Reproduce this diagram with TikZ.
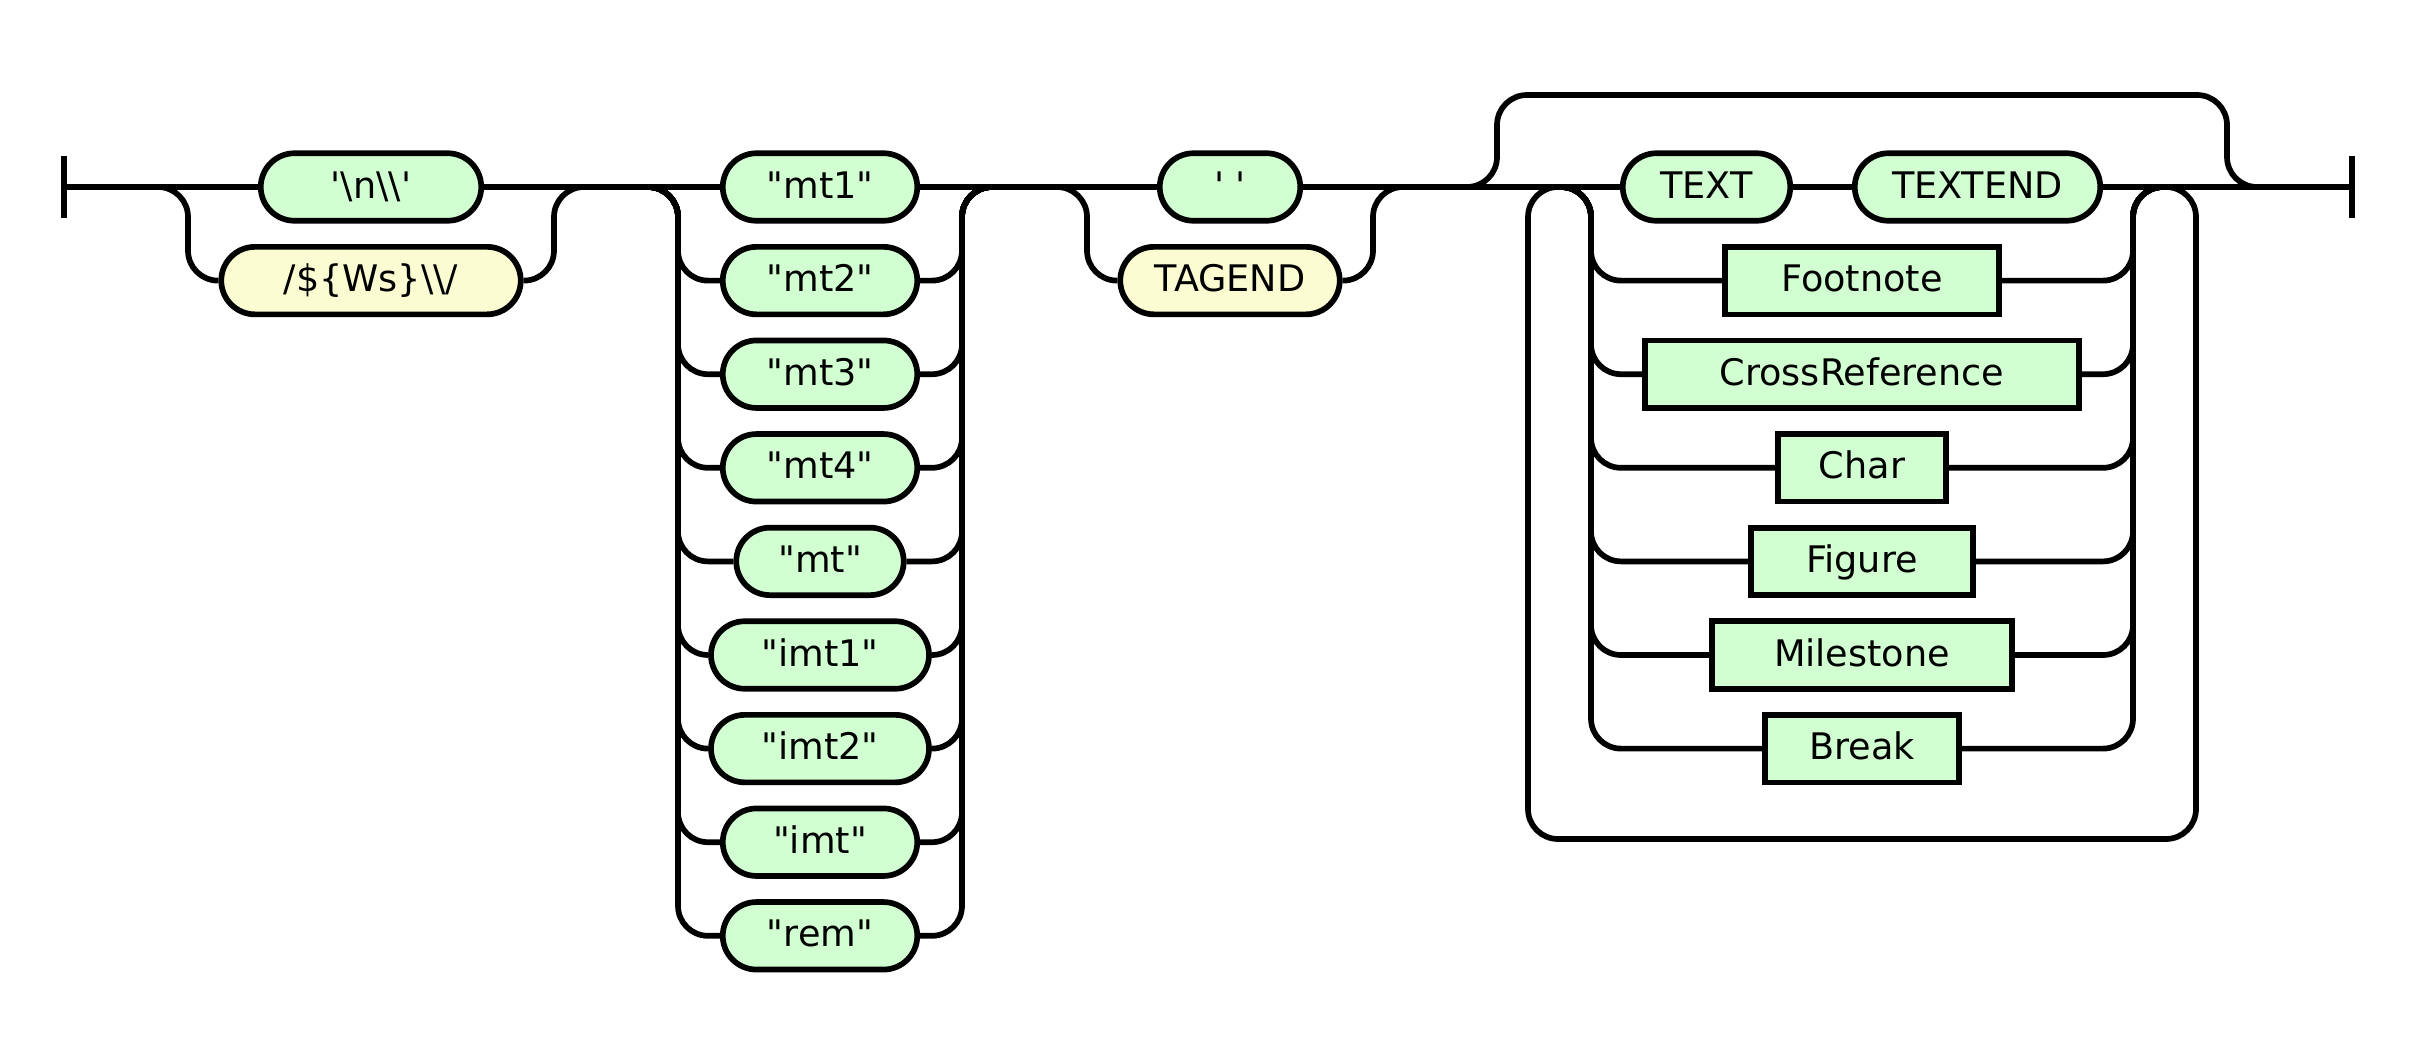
\documentclass[tikz,border=0pt]{standalone}
\usepackage{fontspec}
\setmainfont{DejaVu Sans}
\usetikzlibrary{shapes.misc}

\definecolor{termgreen}{RGB}{210,255,210}
\definecolor{tokyellow}{RGB}{252,252,210}

\newcommand{\dq}[1]{\textquotedbl#1\textquotedbl}

\tikzset{
  rail/.style={line width=5.7pt, rounded corners=30pt},
  endbar/.style={line width=5.7pt},
  term/.style={rounded rectangle, draw, line width=5.7pt, fill=termgreen, minimum height=67.5pt,
    inner sep=0pt, text height=30pt, text depth=8pt, font=\fontsize{36.6}{44}\selectfont},
  tok/.style={term, fill=tokyellow},
  nonterm/.style={rectangle, draw, line width=5.7pt, fill=termgreen, minimum height=67.5pt,
    inner sep=0pt, text height=30pt, text depth=8pt, font=\fontsize{36.6}{44}\selectfont},
}

\begin{document}
\begin{tikzpicture}[x=1pt, y=-1pt]
			\useasboundingbox (0,0) rectangle (2413,1063);

			% junctions on the main line
			\coordinate (start) at (64,187);
			\coordinate (aL) at (158,187);
			\coordinate (aR) at (584,187);
			\coordinate (bL) at (648,187);
			\coordinate (bR) at (992,187);
			\coordinate (cL) at (1057,187);
			\coordinate (cR) at (1403,187);
			\coordinate (skipL) at (1467,187);
			\coordinate (skipR) at (2257,187);
			\coordinate (loopL) at (1561,187);
			\coordinate (loopR) at (2163,187);
			\coordinate (stop) at (2352,187);
			\coordinate (topL) at (1497,95);
			\coordinate (topR) at (2227,95);

			\node (nl)[term, minimum width=220.5pt] at (371,187) {\textquotesingle\textbackslash n\textbackslash\textbackslash\textquotesingle};
			\node (ws)[tok, minimum width=299.5pt] at (371,280.6) {/\$\{Ws\}\textbackslash\textbackslash/};

			\node (mt1)[term, minimum width=194.5pt] at (820,187) {\dq{mt1}};
			\node (mt2)[term, minimum width=194.5pt] at (820,280.6) {\dq{mt2}};
			\node (mt3)[term, minimum width=194.5pt] at (820,374.2) {\dq{mt3}};
			\node (mt4)[term, minimum width=194.5pt] at (820,467.8) {\dq{mt4}};
			\node (mt)[term, minimum width=167.5pt] at (820,561.4) {\dq{mt}};
			\node (imt1)[term, minimum width=218pt] at (820,655) {\dq{imt1}};
			\node (imt2)[term, minimum width=218pt] at (820,748.6) {\dq{imt2}};
			\node (imt)[term, minimum width=194.5pt] at (820,842.2) {\dq{imt}};
			\node (rem)[term, minimum width=194.5pt] at (820,935.8) {\dq{rem}};

			\node (sp)[term, minimum width=140.5pt] at (1230,187) {\textquotesingle\ \textquotesingle};
			\node (tagend)[tok, minimum width=219.5pt] at (1230,280.6) {TAGEND};

			\node (text)[term, minimum width=167.5pt] at (1706.5,187) {TEXT};
			\node (textend)[term, minimum width=245.5pt] at (1977.5,187) {TEXTEND};
			\node (foot)[nonterm, minimum width=274.5pt] at (1862,280.6) {Footnote};
			\node (xref)[nonterm, minimum width=434.5pt] at (1862,374.2) {CrossReference};
			\node (char)[nonterm, minimum width=167.5pt] at (1862,467.8) {Char};
			\node (fig)[nonterm, minimum width=221.5pt] at (1862,561.4) {Figure};
			\node (mile)[nonterm, minimum width=300.5pt] at (1862,655) {Milestone};
			\node (brk)[nonterm, minimum width=194.5pt] at (1862,748.6) {Break};

			% end bars and main line
			\draw[endbar] (start) ++(0,-31) -- ++(0,62);
			\draw[endbar] (stop) ++(0,-31) -- ++(0,62);
			\draw[rail] (start) -- (nl);
			\draw[rail] (nl) -- (mt1);
			\draw[rail] (mt1) -- (sp);
			\draw[rail] (sp) -- (text);
			\draw[rail] (text) -- (textend);
			\draw[rail] (textend) -- (stop);

			% first choice
			\draw[rail] (aL) -- ++(30,0) |- (ws);
			\draw[rail] (ws) -| ([xshift=-30pt]aR) -- (aR);

			% mt choice
			\draw[rail] (bL) -- ++(30,0) |- (mt2);
			\draw[rail] (bL) -- ++(30,0) |- (mt3);
			\draw[rail] (bL) -- ++(30,0) |- (mt4);
			\draw[rail] (bL) -- ++(30,0) |- (mt);
			\draw[rail] (bL) -- ++(30,0) |- (imt1);
			\draw[rail] (bL) -- ++(30,0) |- (imt2);
			\draw[rail] (bL) -- ++(30,0) |- (imt);
			\draw[rail] (bL) -- ++(30,0) |- (rem);
			\draw[rail] (mt2) -| ([xshift=-30pt]bR) -- (bR);
			\draw[rail] (mt3) -| ([xshift=-30pt]bR) -- (bR);
			\draw[rail] (mt4) -| ([xshift=-30pt]bR) -- (bR);
			\draw[rail] (mt) -| ([xshift=-30pt]bR) -- (bR);
			\draw[rail] (imt1) -| ([xshift=-30pt]bR) -- (bR);
			\draw[rail] (imt2) -| ([xshift=-30pt]bR) -- (bR);
			\draw[rail] (imt) -| ([xshift=-30pt]bR) -- (bR);
			\draw[rail] (rem) -| ([xshift=-30pt]bR) -- (bR);

			% space or tag end
			\draw[rail] (cL) -- ++(30,0) |- (tagend);
			\draw[rail] (tagend) -| ([xshift=-30pt]cR) -- (cR);

			% skip over the loop
			\draw[rail] (skipL) -| (topL) -- (topR) |- (skipR);

			% loop body
			\draw[rail] (loopL) -- ++(30,0) |- (foot);
			\draw[rail] (loopL) -- ++(30,0) |- (xref);
			\draw[rail] (loopL) -- ++(30,0) |- (char);
			\draw[rail] (loopL) -- ++(30,0) |- (fig);
			\draw[rail] (loopL) -- ++(30,0) |- (mile);
			\draw[rail] (loopL) -- ++(30,0) |- (brk);
			\draw[rail] (foot) -| ([xshift=-30pt]loopR) -- (loopR);
			\draw[rail] (xref) -| ([xshift=-30pt]loopR) -- (loopR);
			\draw[rail] (char) -| ([xshift=-30pt]loopR) -- (loopR);
			\draw[rail] (fig) -| ([xshift=-30pt]loopR) -- (loopR);
			\draw[rail] (mile) -| ([xshift=-30pt]loopR) -- (loopR);
			\draw[rail] (brk) -| ([xshift=-30pt]loopR) -- (loopR);
			\draw[rail] (loopR) -| (2196,839) -| (1528,187) -- (loopL);
		\end{tikzpicture}
\end{document}
